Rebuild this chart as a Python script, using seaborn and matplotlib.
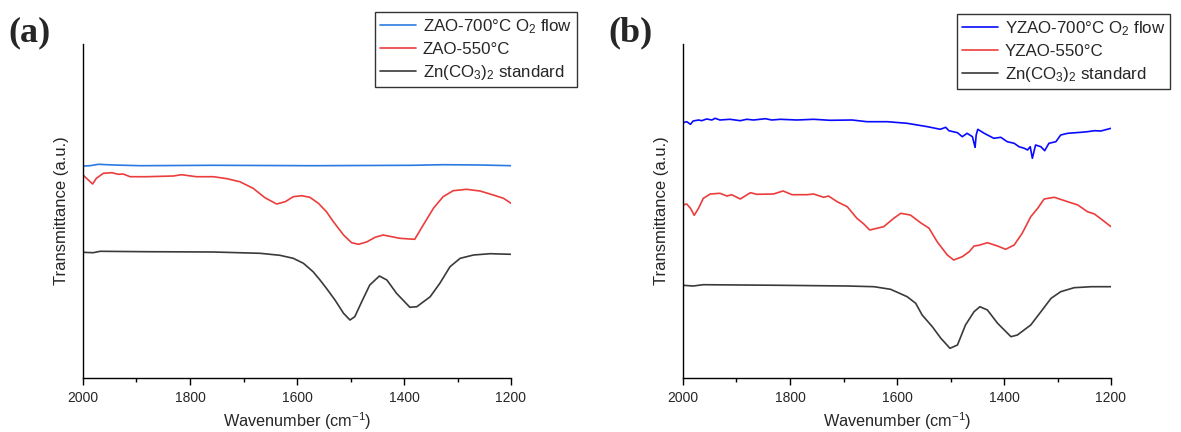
import numpy as np
import pandas as pd
import seaborn as sns
import matplotlib
matplotlib.use("Agg")
import matplotlib.pyplot as plt
from matplotlib.ticker import MultipleLocator

# ---------------- data ----------------
# Panel (a)
a_blue_wn = [2000, 1987, 1971, 1943, 1893, 1756, 1570, 1383, 1327, 1258, 1200]
a_blue_t = [212, 212.3, 213.7, 213, 212.3, 212.7, 212.3, 212.7, 213.3, 213, 212.3]

a_red_wn = [2000, 1990, 1982, 1975, 1962, 1946, 1934, 1925, 1912, 1881, 1831, 1816,
            1788, 1756, 1731, 1707, 1682, 1660, 1638, 1622, 1607, 1591, 1576, 1560,
            1545, 1532, 1513, 1498, 1485, 1470, 1454, 1439, 1423, 1408, 1389, 1380,
            1364, 1345, 1327, 1308, 1283, 1258, 1233, 1214, 1200]
a_red_t = [203, 198, 194, 199.7, 204.7, 205.3, 203.7, 204, 201.3, 201.3, 202, 203.3,
           201.3, 201.3, 199.3, 196.3, 189.7, 180.3, 174, 176.3, 181.3, 182.3, 180.7, 174.7,
           166.3, 156.3, 143, 135.3, 133.7, 136, 140.7, 143, 141.3, 139.7, 139, 138.7,
           153, 169.7, 181.3, 187.3, 188.7, 187, 183, 179.7, 174.7]

a_blk_wn = [2000, 1981, 1968, 1881, 1756, 1669, 1632, 1607, 1588, 1570, 1557, 1545,
            1529, 1513, 1501, 1492, 1479, 1464, 1446, 1432, 1414, 1389, 1376, 1351,
            1333, 1314, 1295, 1270, 1239, 1200]
a_blk_t = [125.7, 125.3, 126.7, 126.3, 126, 124.7, 122.7, 119.7, 114.7, 106.3, 98, 89.7,
           78, 64.7, 58, 61.3, 76.3, 93, 102, 98, 84.7, 70.7, 71.3, 81.3,
           94.7, 111.3, 119.7, 123, 124.3, 123.7]

# Panel (b)
b_blue_wn = [2000, 1993, 1986, 1981, 1971, 1965, 1956, 1946, 1940, 1931, 1912, 1893,
             1881, 1868, 1846, 1834, 1818, 1787, 1756, 1725, 1684, 1656, 1618, 1581,
             1543, 1519, 1509, 1503, 1487, 1478, 1469, 1459, 1456, 1454, 1452, 1449,
             1437, 1419, 1406, 1394, 1381, 1372, 1362, 1356, 1351, 1347, 1341, 1331,
             1324, 1316, 1303, 1294, 1281, 1256, 1244, 1231, 1219, 1200]
b_blue_t = [255.3, 256.3, 253.7, 257, 258, 257.3, 259, 258, 259.7, 258, 258.7, 257.3,
            258.7, 258, 259.3, 258, 258.7, 258, 258.7, 257.7, 258, 256.3, 256.3, 254.7,
            251.3, 248.7, 250.7, 247.3, 245.3, 241.3, 244.7, 241.3, 234.7, 230.7, 243, 248.7,
            244.7, 239.7, 240.7, 236.3, 234.7, 231.3, 229.7, 228, 231.3, 219.7, 233, 231.3,
            227.3, 234.7, 236.3, 243, 244.7, 245.7, 246.3, 247.3, 247, 249.7]

b_red_wn = [2000, 1993, 1986, 1979, 1971, 1962, 1949, 1931, 1918, 1909, 1893, 1874,
            1862, 1831, 1813, 1796, 1768, 1756, 1737, 1728, 1712, 1693, 1675, 1662,
            1651, 1625, 1606, 1593, 1575, 1556, 1540, 1525, 1506, 1494, 1478, 1465,
            1456, 1447, 1431, 1412, 1397, 1381, 1366, 1350, 1337, 1325, 1306, 1281,
            1262, 1244, 1231, 1216, 1200]
b_red_t = [173, 174, 169.7, 162.7, 169.7, 179.7, 184, 184.7, 182, 183.3, 179, 185.3,
           183.7, 184, 187, 183.3, 183.3, 184, 180.7, 182, 176.3, 171.3, 159.7, 154,
           148, 151.3, 159.7, 164.7, 163, 155.3, 149.7, 136.3, 123, 118, 121.3, 126.3,
           132, 132.7, 135.3, 132, 128.7, 133, 144.7, 161.3, 169.7, 179, 180.7, 176.3,
           173, 166.3, 164, 158, 151.3]

b_blk_wn = [2000, 1981, 1962, 1818, 1693, 1643, 1612, 1581, 1565, 1553, 1534, 1518,
            1501, 1487, 1472, 1456, 1445, 1431, 1412, 1387, 1375, 1350, 1331, 1312,
            1294, 1269, 1237, 1200]
b_blk_t = [92.7, 92, 93.3, 92.7, 92, 91.3, 88.7, 81.3, 74.7, 63, 51.3, 39.7,
           29.7, 33, 53, 66.3, 71.3, 68, 54.7, 41.3, 43, 53, 66.3, 79.7,
           86.3, 90.3, 91.3, 91.3]

labels_a = ["ZAO-700°C O$_2$ flow", "ZAO-550°C", "Zn(CO$_3$)$_2$ standard"]
labels_b = ["YZAO-700°C O$_2$ flow", "YZAO-550°C", "Zn(CO$_3$)$_2$ standard"]
panel_letters = ["(a)", "(b)"]
x_label = "Wavenumber (cm$^{-1}$)"
y_label = "Transmittance (a.u.)"

# ---------------- style ----------------
sns.set_theme(style="ticks")
plt.rcParams["font.family"] = ["Liberation Sans", "DejaVu Sans"]
plt.rcParams["mathtext.fontset"] = "custom"
plt.rcParams["mathtext.rm"] = "Liberation Sans"
plt.rcParams["mathtext.it"] = "Liberation Sans"
plt.rcParams["mathtext.default"] = "regular"

fig = plt.figure(figsize=(11.81, 4.32), dpi=100)
W, H = 1181, 432
ax_w = 428 / W
ax_b = 1 - 378 / H
ax_h = (378 - 44) / H
axA = fig.add_axes([83 / W, ax_b, ax_w, ax_h])
axB = fig.add_axes([683 / W, ax_b, ax_w, ax_h])

colors_a = ["#2a7ae2", "#ec3d3d", "#3a3a3a"]
colors_b = ["#0a0aff", "#ec3d3d", "#3a3a3a"]

series_a = [(a_blue_wn, a_blue_t), (a_red_wn, a_red_t), (a_blk_wn, a_blk_t)]
series_b = [(b_blue_wn, b_blue_t), (b_red_wn, b_red_t), (b_blk_wn, b_blk_t)]

legend_boxes = [(577, 12), (1170, 14)]

for ax, series, colors, labels, letter, lb, axleft in [
        (axA, series_a, colors_a, labels_a, panel_letters[0], legend_boxes[0], 83),
        (axB, series_b, colors_b, labels_b, panel_letters[1], legend_boxes[1], 683)]:
    for (wn, t), c, lab in zip(series, colors, labels):
        df = pd.DataFrame({"wn": wn, "t": t})
        sns.lineplot(data=df, x="wn", y="t", ax=ax, color=c, lw=1.2,
                     label=lab, estimator=None, sort=False)
    ax.set_xlim(2000, 1200)
    ax.set_ylim(0, 334)
    ax.xaxis.set_major_locator(MultipleLocator(200))
    ax.xaxis.set_minor_locator(MultipleLocator(100))
    ax.set_yticks([])
    ax.tick_params(axis="x", which="major", direction="out", length=5, width=1,
                   labelsize=10, color="black", pad=4)
    ax.tick_params(axis="x", which="minor", direction="out", length=3, width=1,
                   color="black")
    for s in ["top", "right"]:
        ax.spines[s].set_visible(False)
    for s in ["left", "bottom"]:
        ax.spines[s].set_color("black")
        ax.spines[s].set_linewidth(1.0)
    ax.set_xlabel(x_label, fontsize=11.7, labelpad=4)
    ax.set_ylabel(y_label, fontsize=12, labelpad=10)
    leg = ax.legend(loc="upper right", bbox_to_anchor=(lb[0] / W, 1 - lb[1] / H),
                    bbox_transform=fig.transFigure, frameon=True, fancybox=False,
                    fontsize=12.2, handlelength=2.1, handletextpad=0.4,
                    borderpad=0.3, labelspacing=0.35, borderaxespad=0)
    leg.get_frame().set_edgecolor("black")
    leg.get_frame().set_linewidth(1.0)
    fig.text((axleft - 75) / W, 1 - 33 / H, letter, fontsize=26, fontweight="bold",
             family="Liberation Serif", va="center", ha="left")

fig.savefig("out.png", dpi=100)
